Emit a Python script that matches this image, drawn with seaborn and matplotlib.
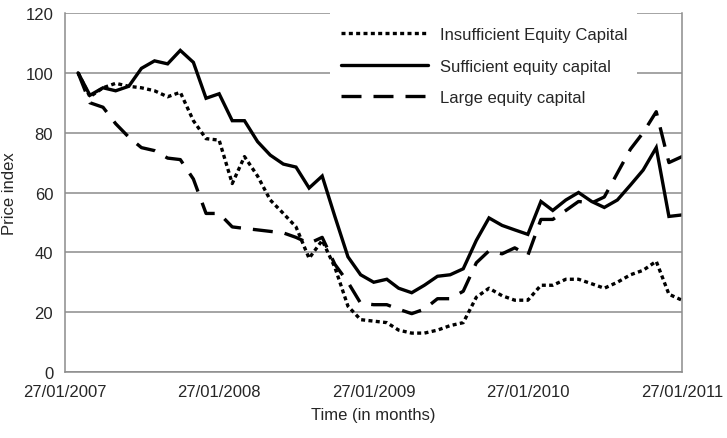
import numpy as np
import pandas as pd
import matplotlib
matplotlib.use("Agg")
import matplotlib.pyplot as plt
from matplotlib.patches import Rectangle
import seaborn as sns

# monthly price index, Jan 2007 - Jan 2011
months = pd.date_range("2007-01-27", periods=49, freq="MS") + pd.Timedelta(days=26)

insufficient = [100, 92, 95, 96.5, 95.5, 95, 94, 92, 93.5, 84, 78, 77.5, 63, 72, 65.5,
                57.5, 53, 48.5, 38, 44, 35, 22, 17.5, 17, 16.5, 14, 13, 13, 14, 15.5,
                16.5, 25, 28, 25.5, 24, 24, 29, 29, 31, 31, 29.5, 28, 30, 32.5, 34, 37,
                26, 24, 23.5]
sufficient = [100, 92.5, 95, 94, 95.5, 101.5, 104, 103, 107.5, 103.5, 91.5, 93, 84, 84,
              77, 72.5, 69.5, 68.5, 61.5, 65.5, 52, 38.5, 32.5, 30, 31, 28, 26.5, 29, 32,
              32.5, 34.5, 44, 51.5, 49, 47.5, 46, 57, 54, 57.5, 60, 57, 55, 57.5, 62.5,
              67.5, 75, 52, 52.5, 52.5]
large = [100, 90, 88.5, 83, 78.5, 75, 74, 71.5, 71, 64.5, 53, 53, 48.5, 48, 47.5, 47,
         46.5, 45, 43, 45, 36, 30, 23, 22.5, 22.5, 21, 19.5, 21, 24.5, 24.5, 27, 36.5,
         40.5, 39.5, 41.5, 39, 51, 51, 54, 57, 56.5, 58.5, 66.5, 74.5, 80, 87, 70, 72,
         74.5]

labels = ["Insufficient Equity Capital", "Sufficient equity capital", "Large equity capital"]
year_ticks = pd.to_datetime(["2007-01-27", "2008-01-27", "2009-01-27", "2010-01-27", "2011-01-27"])

df = pd.concat([
    pd.DataFrame({"date": months, "value": insufficient, "series": labels[0]}),
    pd.DataFrame({"date": months, "value": sufficient, "series": labels[1]}),
    pd.DataFrame({"date": months, "value": large, "series": labels[2]}),
])

sns.set_style("white")
plt.rcParams["font.family"] = ["Liberation Sans", "DejaVu Sans"]

fig = plt.figure(figsize=(7.27, 4.39), dpi=100)
ax = fig.add_axes([65 / 727, 1 - 373 / 439, (682 - 65) / 727, (373 - 14) / 439])

dash_map = {labels[0]: (1.2, 1.0), labels[1]: "", labels[2]: (6, 3.6)}
sns.lineplot(data=df, x="date", y="value", hue="series", style="series",
             palette=["black"] * 3, dashes=dash_map, linewidth=2.4, ax=ax,
             legend=False)
for ln in ax.get_lines():
    ln.set_dash_capstyle("butt")
    ln.set_solid_joinstyle("miter")

ax.set_xlim(year_ticks[0], year_ticks[-1])
ax.set_ylim(0, 120)
ax.set_yticks(range(0, 121, 20))
ax.set_xticks(year_ticks)
ax.set_xticklabels([d.strftime("%d/%m/%Y") for d in year_ticks])
ax.yaxis.grid(True, color="#8c8c8c", linewidth=1.1)
ax.set_axisbelow(True)
for s in ax.spines.values():
    s.set_color("#8c8c8c")
    s.set_linewidth(1.1)
ax.spines["top"].set_visible(False)
ax.tick_params(axis="both", labelsize=12, color="#8c8c8c", length=5, width=1.1)
ax.tick_params(axis="x", direction="inout", pad=6)
ax.set_xlabel("Time (in months)", fontsize=12, labelpad=6)
ax.set_ylabel("Price index", fontsize=12, labelpad=6)

# white box behind the legend hides the gridline
ax.add_patch(Rectangle((0.4295, 0.72), 0.4975, 0.28, transform=ax.transAxes,
                       facecolor="white", edgecolor="none", zorder=1))

leg = ax.legend(labels=labels, handles=ax.get_lines()[:3], loc="upper left",
                bbox_to_anchor=(336 / 727, 1 - 23 / 439), bbox_transform=fig.transFigure,
                frameon=False, fontsize=12, handlelength=5.2,
                labelspacing=1.0, borderpad=0.3, handletextpad=0.75, borderaxespad=0)

fig.savefig("out.png", dpi=100)
